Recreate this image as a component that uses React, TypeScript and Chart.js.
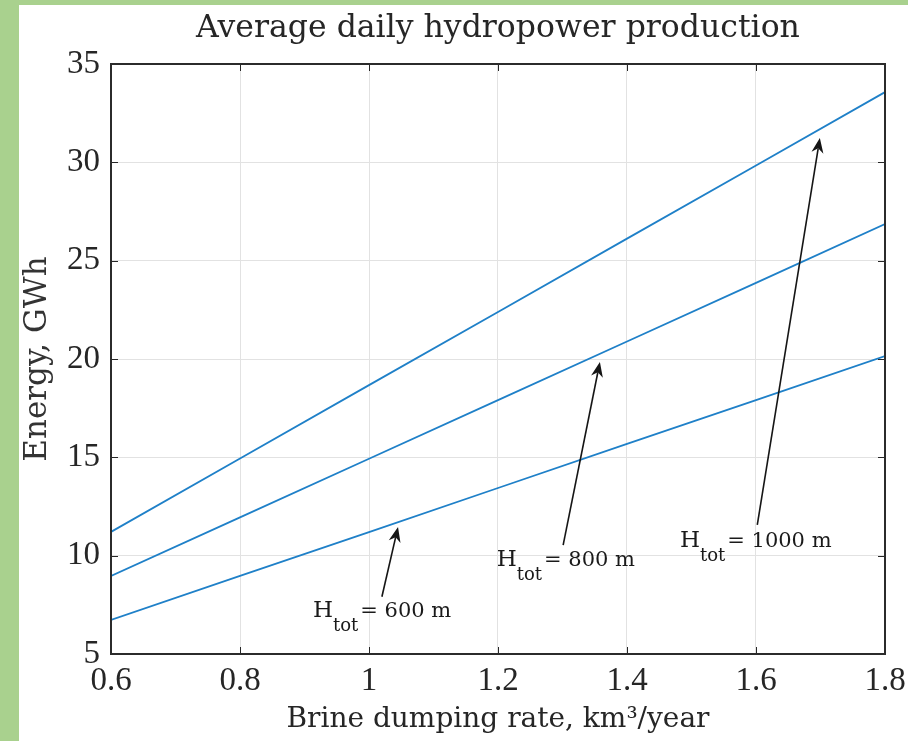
import React, { useEffect, useRef } from 'react';
import { Chart, registerables } from 'chart.js';

Chart.register(...registerables);

// ---- data ----
const rates = [0.6, 0.8, 1.0, 1.2, 1.4, 1.6, 1.8];
const energy600 = [6.73, 8.97, 11.2, 13.44, 15.68, 17.91, 20.15];
const energy800 = [8.97, 11.95, 14.93, 17.91, 20.89, 23.87, 26.86];
const energy1000 = [11.21, 14.94, 18.67, 22.39, 26.12, 29.84, 33.57];

const xTickValues = [0.6, 0.8, 1.0, 1.2, 1.4, 1.6, 1.8];
const xTickLabels = ['0.6', '0.8', '1', '1.2', '1.4', '1.6', '1.8'];
const yTickValues = [5, 10, 15, 20, 25, 30, 35];

const headValues = ['600', '800', '1000'];
// annotation anchors in data units (rate, energy)
const labelAnchors = [
  [0.913, 7.19],
  [1.198, 9.78],
  [1.482, 10.75],
];
const arrowTails = [
  [1.02, 7.91],
  [1.301, 10.54],
  [1.602, 11.56],
];
const arrowTips = [
  [1.045, 11.46],
  [1.358, 19.85],
  [1.699, 31.24],
];

const SERIF = '"Liberation Serif", "Times New Roman", serif';
const WIDE_SERIF = '"DejaVu Serif", serif';
const TEXT = '#262626';
const LINE = '#1f80c8';

function toPoints(vals: number[]) {
  return rates.map((r, i) => ({ x: r, y: vals[i] }));
}

const overlay = {
  id: 'overlay',
  afterDatasetsDraw(chart: any) {
    const { ctx, chartArea: a, scales } = chart;
    const x = scales.x;
    const y = scales.y;
    ctx.save();

    // inward ticks on all four sides
    ctx.strokeStyle = TEXT;
    ctx.lineWidth = 1;
    ctx.beginPath();
    xTickValues.forEach((v) => {
      const px = Math.round(x.getPixelForValue(v)) + 0.5;
      ctx.moveTo(px, a.bottom);
      ctx.lineTo(px, a.bottom - 7);
      ctx.moveTo(px, a.top);
      ctx.lineTo(px, a.top + 7);
    });
    yTickValues.forEach((v) => {
      const py = Math.round(y.getPixelForValue(v)) + 0.5;
      ctx.moveTo(a.left, py);
      ctx.lineTo(a.left + 7, py);
      ctx.moveTo(a.right, py);
      ctx.lineTo(a.right - 7, py);
    });
    ctx.stroke();

    // box
    ctx.lineWidth = 2;
    ctx.strokeStyle = '#2b2b2b';
    ctx.strokeRect(a.left, a.top, a.right - a.left, a.bottom - a.top);

    // arrows
    ctx.strokeStyle = '#151515';
    ctx.fillStyle = '#151515';
    ctx.lineWidth = 1.6;
    arrowTails.forEach((t, i) => {
      const x0 = x.getPixelForValue(t[0]);
      const y0 = y.getPixelForValue(t[1]);
      const x1 = x.getPixelForValue(arrowTips[i][0]);
      const y1 = y.getPixelForValue(arrowTips[i][1]);
      const ang = Math.atan2(y1 - y0, x1 - x0);
      const c = Math.cos(ang);
      const s = Math.sin(ang);
      const hl = 15;
      const hw = 6;
      const bx = x1 - hl * c;
      const by = y1 - hl * s;
      const nx = x1 - hl * 0.7 * c;
      const ny = y1 - hl * 0.7 * s;
      ctx.beginPath();
      ctx.moveTo(x0, y0);
      ctx.lineTo(nx, ny);
      ctx.stroke();
      ctx.beginPath();
      ctx.moveTo(x1, y1);
      ctx.lineTo(bx + hw * s, by - hw * c);
      ctx.lineTo(nx, ny);
      ctx.lineTo(bx - hw * s, by + hw * c);
      ctx.closePath();
      ctx.fill();
    });

    // labels
    ctx.fillStyle = '#1a1a1a';
    ctx.textAlign = 'left';
    ctx.textBaseline = 'middle';
    labelAnchors.forEach((p, i) => {
      const px = x.getPixelForValue(p[0]);
      const py = y.getPixelForValue(p[1]);
      ctx.font = `23px ${WIDE_SERIF}`;
      ctx.fillText('H', px, py);
      let w = ctx.measureText('H').width;
      ctx.font = `18px ${WIDE_SERIF}`;
      ctx.fillText('tot', px + w, py + 15);
      w += ctx.measureText('tot').width + 2;
      ctx.font = `21px ${WIDE_SERIF}`;
      ctx.fillText(`= ${headValues[i]} m`, px + w, py + 1);
    });

    ctx.restore();
  },
};

export default function App() {
  const ref = useRef<HTMLCanvasElement | null>(null);

  useEffect(() => {
    if (!ref.current) return;
    const chart = new Chart(ref.current, {
      type: 'line',
      data: {
        datasets: [
          { label: 'H_tot = 600 m', data: toPoints(energy600) },
          { label: 'H_tot = 800 m', data: toPoints(energy800) },
          { label: 'H_tot = 1000 m', data: toPoints(energy1000) },
        ].map((d) => ({
          ...d,
          borderColor: LINE,
          backgroundColor: LINE,
          borderWidth: 1.8,
          pointRadius: 0,
          tension: 0,
          fill: false,
        })),
      },
      options: {
        responsive: false,
        animation: false,
        layout: { padding: { top: 0, right: 23, bottom: 0, left: 0 } },
        plugins: {
          legend: { display: false },
          tooltip: { enabled: false },
          title: {
            display: true,
            fullSize: false,
            text: 'Average daily hydropower production',
            color: TEXT,
            font: { family: WIDE_SERIF, size: 31.5, weight: 'normal' },
            padding: { top: 5, bottom: 16.2 },
          },
        },
        scales: {
          x: {
            type: 'linear',
            min: 0.6,
            max: 1.8,
            afterBuildTicks: (scale: any) => {
              scale.ticks = xTickValues.map((v) => ({ value: v }));
            },
            afterFit: (scale: any) => {
              scale.height = 87;
              scale.paddingLeft = 0;
              scale.paddingRight = 0;
            },
            ticks: {
              callback: (_v: any, i: number) => xTickLabels[i],
              color: TEXT,
              font: { family: SERIF, size: 33 },
              padding: 8,
              maxRotation: 0,
            },
            grid: { color: '#e2e2e2', lineWidth: 1, drawTicks: false },
            border: { display: false },
            title: {
              display: true,
              text: 'Brine dumping rate, km³/year',
              color: TEXT,
              font: { family: WIDE_SERIF, size: 28 },
              padding: { top: 0, bottom: 4.2 },
            },
          },
          y: {
            type: 'linear',
            min: 5,
            max: 35,
            afterBuildTicks: (scale: any) => {
              scale.ticks = yTickValues.map((v) => ({ value: v }));
            },
            afterFit: (scale: any) => {
              scale.width = 92;
            },
            ticks: {
              color: TEXT,
              font: { family: SERIF, size: 33 },
              padding: 11,
            },
            grid: { color: '#e2e2e2', lineWidth: 1, drawTicks: false },
            border: { display: false },
            title: {
              display: true,
              text: 'Energy, GWh',
              color: '#333333',
              font: { family: WIDE_SERIF, size: 31 },
              padding: { top: 0, bottom: 0 },
            },
          },
        },
      },
      plugins: [overlay],
    });
    return () => chart.destroy();
  }, []);

  return (
    <div
      style={{
        position: 'absolute',
        left: 0,
        top: 0,
        width: 908,
        height: 741,
        background: '#a9d18e',
        overflow: 'hidden',
      }}
    >
      <div
        style={{
          position: 'absolute',
          left: 19,
          top: 5,
          width: 889,
          height: 736,
          background: '#ffffff',
        }}
      >
        <canvas ref={ref} width={889} height={736} style={{ display: 'block' }} />
      </div>
    </div>
  );
}
